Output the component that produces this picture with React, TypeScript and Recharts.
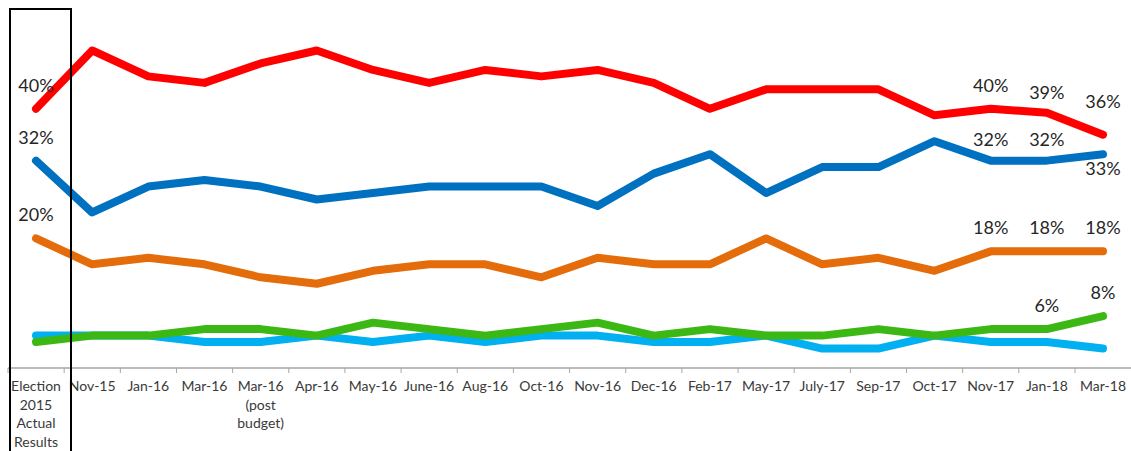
import React from "react";
import { LineChart, Line, XAxis, YAxis, LabelList } from "recharts";

const categories = [
  "Election\n2015\nActual\nResults",
  "Nov-15",
  "Jan-16",
  "Mar-16",
  "Mar-16\n(post\nbudget)",
  "Apr-16",
  "May-16",
  "June-16",
  "Aug-16",
  "Oct-16",
  "Nov-16",
  "Dec-16",
  "Feb-17",
  "May-17",
  "July-17",
  "Sep-17",
  "Oct-17",
  "Nov-17",
  "Jan-18",
  "Mar-18",
];

const liberal = [40, 49, 45, 44, 47, 49, 46, 44, 46, 45, 46, 44, 40, 43, 43, 43, 39, 40, 39.4, 36];
const conservative = [32, 24, 28, 29, 28, 26, 27, 28, 28, 28, 25, 30, 33, 27, 31, 31, 35, 32, 32, 33];
const ndp = [20, 16, 17, 16, 14, 13, 15, 16, 16, 14, 17, 16, 16, 20, 16, 17, 15, 18, 18, 18];
const bloc = [5, 5, 5, 4, 4, 5, 4, 5, 4, 5, 5, 4, 4, 5, 3, 3, 5, 4, 4, 3];
const green = [4, 5, 5, 6, 6, 5, 7, 6, 5, 6, 7, 5, 6, 5, 5, 6, 5, 6, 6, 8];

// which points carry a value label
const liberalLabels = [0, 17, 18, 19];
const conservativeLabels = [0, 17, 18, 19];
const ndpLabels = [0, 17, 18, 19];
const greenLabels = [18, 19];

const data = categories.map((name, i) => ({
  name,
  liberal: liberal[i],
  conservative: conservative[i],
  ndp: ndp[i],
  bloc: bloc[i],
  green: green[i],
}));

const HALF_BAND = 28;
const FONT = "Lato, 'Open Sans', sans-serif";

function CategoryTick(props: any) {
  const { x, y, payload } = props;
  const lines = String(payload.value).split("\n");
  return (
    <g>
      <line x1={x - HALF_BAND} x2={x - HALF_BAND} y1={y} y2={y + 5} stroke="#a6a6a6" strokeWidth={1} />
      <text x={x} y={y + 23} textAnchor="middle" fill="#3a3a3a" fontSize={14} fontFamily={FONT}>
        {lines.map((l, i) => (
          <tspan key={i} x={x} dy={i === 0 ? 0 : 18.7}>
            {l}
          </tspan>
        ))}
      </text>
    </g>
  );
}

const valueLabel = (shown: number[], offsets: Record<number, number> = {}) => (props: any) => {
  const { x, y, value, index } = props;
  if (!shown.includes(index)) return null;
  const dy = offsets[index] ?? -24;
  return (
    <text
      x={x}
      y={y + dy}
      textAnchor="middle"
      dominantBaseline="central"
      fill="#262626"
      fontSize={18}
      fontFamily={FONT}
    >
      {Math.round(value)}%
    </text>
  );
};

export default function App() {
  return (
    <div style={{ position: "relative", width: 1131, height: 451, background: "#fff" }}>
      <style>{"body{margin:0}"}</style>
      <LineChart width={1131} height={451} data={data} margin={{ top: 44, right: 0, bottom: 0, left: 8 }}>
        <XAxis
          dataKey="name"
          interval={0}
          height={83}
          padding={{ left: HALF_BAND, right: HALF_BAND }}
          axisLine={{ stroke: "#a6a6a6", strokeWidth: 1.5 }}
          tickLine={false}
          tickSize={0}
          tickMargin={0}
          tick={<CategoryTick />}
        />
        <YAxis hide domain={[0, 50]} />
        <Line
          dataKey="liberal"
          stroke="#ff0000"
          strokeWidth={8}
          strokeLinecap="round"
          strokeLinejoin="round"
          dot={false}
          activeDot={false}
          isAnimationActive={false}
        >
          <LabelList dataKey="liberal" content={valueLabel(liberalLabels, { 18: -21, 19: -34 })} />
        </Line>
        <Line
          dataKey="conservative"
          stroke="#0070c0"
          strokeWidth={8}
          strokeLinecap="round"
          strokeLinejoin="round"
          dot={false}
          activeDot={false}
          isAnimationActive={false}
        >
          <LabelList dataKey="conservative" content={valueLabel(conservativeLabels, { 17: -22, 18: -22, 19: 14 })} />
        </Line>
        <Line
          dataKey="ndp"
          stroke="#e46c0a"
          strokeWidth={8}
          strokeLinecap="round"
          strokeLinejoin="round"
          dot={false}
          activeDot={false}
          isAnimationActive={false}
        >
          <LabelList dataKey="ndp" content={valueLabel(ndpLabels)} />
        </Line>
        <Line
          dataKey="bloc"
          stroke="#00b0f0"
          strokeWidth={8}
          strokeLinecap="round"
          strokeLinejoin="round"
          dot={false}
          activeDot={false}
          isAnimationActive={false}
        />
        <Line
          dataKey="green"
          stroke="#3cb815"
          strokeWidth={8}
          strokeLinecap="round"
          strokeLinejoin="round"
          dot={false}
          activeDot={false}
          isAnimationActive={false}
        >
          <LabelList dataKey="green" content={valueLabel(greenLabels)} />
        </Line>
      </LineChart>
      {/* box around the election result column */}
      <div
        style={{
          position: "absolute",
          left: 9,
          top: 8,
          width: 63,
          height: 470,
          border: "2px solid #000",
          boxSizing: "border-box",
          pointerEvents: "none",
        }}
      />
    </div>
  );
}
